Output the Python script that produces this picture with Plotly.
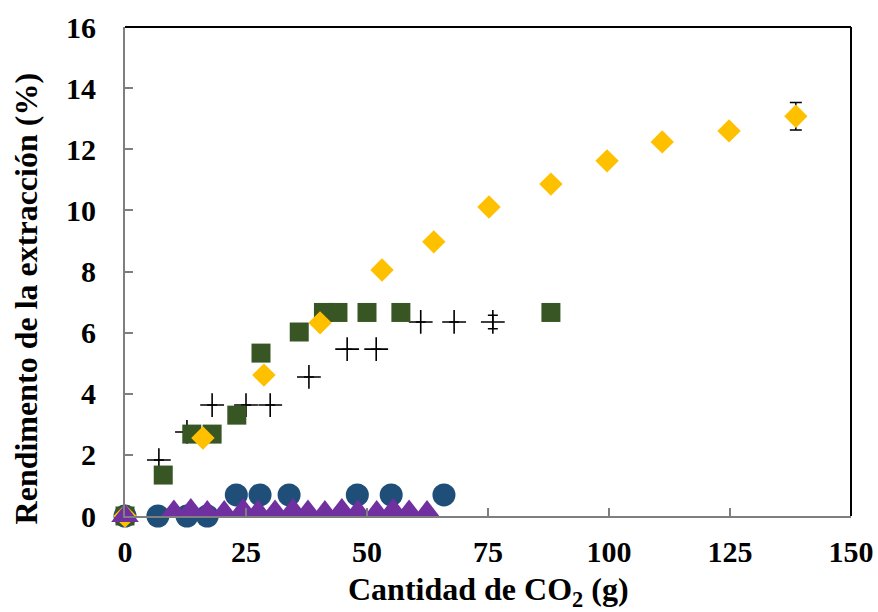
import plotly.graph_objects as go

# Data (Cantidad de CO2 in g, Rendimento in %)
cross_x = [7.0, 12.8, 18.0, 25.0, 30.0, 38.0, 45.9, 51.9, 61.1, 68.0, 76.0]
cross_y = [1.83, 2.75, 3.63, 3.63, 3.63, 4.55, 5.46, 5.46, 6.35, 6.35, 6.35]
cross_err = [0, 0, 0, 0, 0, 0, 0, 0, 0, 0, 0.22]

circle_x = [0, 6.8, 12.8, 17.0, 23.0, 27.9, 33.9, 48.0, 55.0, 65.9]
circle_y = [0, 0, 0, 0, 0.69, 0.69, 0.69, 0.69, 0.69, 0.69]

square_x = [0, 7.9, 13.8, 18.0, 23.1, 28.1, 36.0, 41.0, 44.0, 50.0, 57.0, 88.0]
square_y = [0, 1.34, 2.68, 2.68, 3.30, 5.33, 6.02, 6.66, 6.66, 6.66, 6.66, 6.66]

diamond_x = [0, 16.1, 28.7, 40.3, 53.1, 63.8, 75.2, 88.0, 99.6, 111.0, 124.8, 138.6]
diamond_y = [0, 2.55, 4.61, 6.32, 8.05, 8.97, 10.11, 10.86, 11.62, 12.24, 12.60, 13.08]
diamond_err = [0, 0, 0, 0, 0, 0, 0, 0, 0, 0, 0, 0.45]

tri_x = [0, 10.1, 13.6, 17.0, 20.5, 24.4, 27.5, 31.0, 34.7, 37.8, 41.3, 44.8, 48.1, 52.0, 55.4, 58.7, 62.4]
tri_y = [0, 0.15, 0.2, 0.13, 0.13, 0.2, 0.15, 0.15, 0.2, 0.15, 0.13, 0.2, 0.15, 0.13, 0.2, 0.15, 0.13]

x_ticks = [0, 25, 50, 75, 100, 125, 150]
y_ticks = [0, 2, 4, 6, 8, 10, 12, 14, 16]

FONT = "Liberation Serif"

fig = go.Figure()
fig.add_trace(go.Scatter(
    x=cross_x, y=cross_y, mode="markers", cliponaxis=False,
    marker=dict(symbol="cross-thin", size=17, line=dict(color="black", width=1.6)),
    error_y=dict(type="data", array=cross_err, color="black", thickness=1.5, width=5),
))
fig.add_trace(go.Scatter(
    x=circle_x, y=circle_y, mode="markers", cliponaxis=False,
    marker=dict(symbol="circle", size=23, color="#1F4E79"),
))
fig.add_trace(go.Scatter(
    x=square_x, y=square_y, mode="markers", cliponaxis=False,
    marker=dict(symbol="square", size=19, color="#375623"),
))
fig.add_trace(go.Scatter(
    x=diamond_x, y=diamond_y, mode="markers", cliponaxis=False,
    marker=dict(symbol="diamond", size=18, color="#FFC000"),
    error_y=dict(type="data", array=diamond_err, color="black", thickness=1.5, width=6),
))
fig.add_trace(go.Scatter(
    x=tri_x, y=tri_y, mode="markers", cliponaxis=False,
    marker=dict(symbol="triangle-up", size=24, color="#7030A0"),
))

# top and right frame lines in black
fig.add_shape(type="line", xref="x domain", yref="y domain", x0=0, x1=1, y0=1, y1=1,
              line=dict(color="black", width=2))
fig.add_shape(type="line", xref="x domain", yref="y domain", x0=1, x1=1, y0=0, y1=1,
              line=dict(color="black", width=2))

# axis titles
fig.add_annotation(text="<b>Cantidad de CO<sub>2</sub> (g)</b>", xref="paper", yref="paper",
                   x=0.5, y=-0.155, xanchor="center", yanchor="middle", showarrow=False,
                   font=dict(family=FONT, size=32, color="black"))
fig.add_annotation(text="<b>Rendimento de la extracción (%)</b>", xref="paper", yref="paper",
                   x=-0.137, y=0.444, xanchor="center", yanchor="middle", showarrow=False,
                   textangle=-90, font=dict(family=FONT, size=32, color="black"))

fig.update_layout(
    width=878, height=612,
    margin=dict(l=125, r=27, t=27, b=96),
    plot_bgcolor="white", paper_bgcolor="white",
    showlegend=False,
    font=dict(family=FONT, color="black"),
    xaxis=dict(
        range=[0, 150], tickvals=x_ticks, ticktext=[str(v) for v in x_ticks],
        showgrid=False, zeroline=False, showline=True, linecolor="#7F7F7F", linewidth=2,
        ticks="inside", ticklen=8, tickcolor="#7F7F7F", tickwidth=1.5,
        tickfont=dict(family=FONT, size=30, color="black", weight="bold"),
        ticklabelstandoff=8, automargin=False,
    ),
    yaxis=dict(
        range=[0, 16], tickvals=y_ticks, ticktext=[str(v) for v in y_ticks],
        showgrid=False, zeroline=False, showline=True, linecolor="#7F7F7F", linewidth=2,
        ticks="inside", ticklen=8, tickcolor="#7F7F7F", tickwidth=1.5,
        tickfont=dict(family=FONT, size=30, color="black", weight="bold"),
        ticklabelstandoff=21, automargin=False,
    ),
)

fig.write_html("out.html")
